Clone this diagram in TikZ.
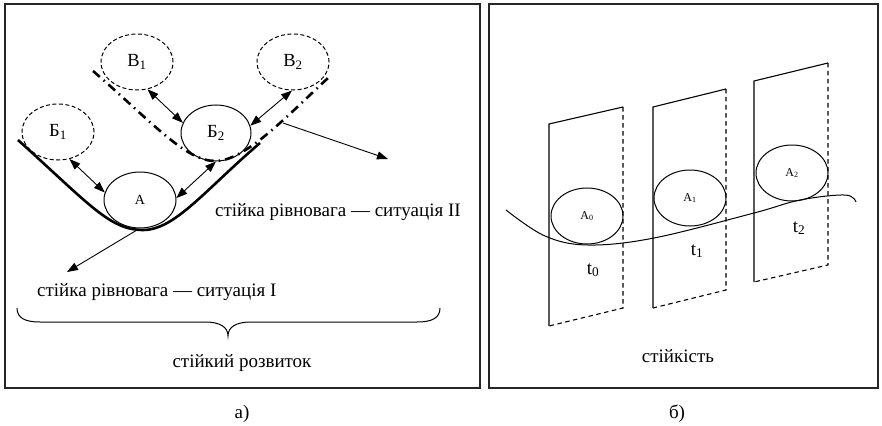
\documentclass[tikz,border=0pt]{standalone}
\usepackage{fontspec}
\setmainfont{Liberation Serif}
\usetikzlibrary{arrows.meta,shapes.geometric}
\tikzset{
  frame/.style={line width=1.4pt,draw=black!85},
  ell/.style={ellipse,draw,line width=1pt,inner sep=0pt,minimum width=72pt,minimum height=56pt,font=\fontsize{18.5}{20}\selectfont},
  dell/.style={ell,dash pattern=on 4pt off 2.5pt},
  small/.style={font=\fontsize{14}{16}\selectfont},
  tiny/.style={font=\fontsize{12}{14}\selectfont},
  dbl/.style={line width=0.9pt,{Triangle[length=11pt,width=8pt]}-{Triangle[length=11pt,width=8pt]}},
  sgl/.style={line width=0.9pt,-{Triangle[length=11pt,width=8pt]}},
  lbl/.style={font=\fontsize{19}{22}\selectfont,inner sep=0pt},
  thick curve/.style={line width=2.6pt},
  dashdot/.style={line width=2.6pt,dash pattern=on 9pt off 5pt on 1.5pt off 5pt},
  plane/.style={line width=1.1pt},
  dplane/.style={line width=1.1pt,dash pattern=on 4.5pt off 3.5pt},
}
\begin{document}
\begin{tikzpicture}[x=1pt,y=-1pt]
\useasboundingbox (0,0) rectangle (882,425);
% frames
\draw[frame] (5,4) rectangle (480,388);
\draw[frame] (489,4) rectangle (878,388);

% ---- left panel ----
\node[dell] (v1) at (137,62) {В\textsubscript{1}};
\node[dell] (v2) at (293,62) {В\textsubscript{2}};
\node[dell] (b1) at (58,132) {Б\textsubscript{1}};
\node[ell,minimum width=70pt] (b2) at (216,133) {Б\textsubscript{2}};
\node[ell,small] (a) at (140,200) {А};

% situation I curve
\draw[thick curve] (18,140) .. controls (90,205) and (110,230) .. (143,230)
  .. controls (175,230) and (205,190) .. (260,143);
\coordinate (s1) at (137,230);
% situation II curve
\draw[dashdot] (93,71) .. controls (150,120) and (185,161) .. (215,161)
  .. controls (245,161) and (285,118) .. (328,78);
\coordinate (s2) at (283,123);

% arrows
\draw[dbl] (b1.-67) -- (a.168);
\draw[dbl] (a.3) -- (b2.-90);
\draw[dbl] (v1.-69) -- (b2.163);
\draw[dbl] (v2.-92) -- (b2.12);
\coordinate (t2) at (388,159);
\draw[sgl] (s2) -- (t2);
\coordinate (t1) at (67,272);
\draw[sgl] (s1) -- (t1);

\node[lbl,anchor=base west] (l2) at (215,216) {стійка рівновага — ситуація II};
\node[lbl,anchor=base west] (l1) at (37,296) {стійка рівновага — ситуація I};

% brace
\draw[line width=1pt] (17,308) .. controls (17,318) and (25,322) .. (40,322) -- (205,322)
  .. controls (220,322) and (228,327) .. (228,336)
  .. controls (228,327) and (236,322) .. (251,322) -- (417,322)
  .. controls (432,322) and (440,318) .. (440,308);
\node[lbl,anchor=base] (dev) at (242,367) {стійкий розвиток};
\node[lbl,anchor=base] (ca) at (242,418) {а)};

% ---- right panel ----
% planes
\draw[plane] (549,326) -- (549,124) -- (623,107);
\draw[dplane] (623,107) -- (623,308) -- (549,326);
\draw[plane] (653,308) -- (653,107) -- (726,89);
\draw[dplane] (726,89) -- (726,290) -- (653,308);
\draw[plane] (754,282) -- (754,81) -- (828,63);
\draw[dplane] (828,63) -- (828,265) -- (754,282);

\node[ell,tiny] (a0) at (587,216) {А\textsubscript{0}};
\node[ell,tiny] (a1) at (690,198) {А\textsubscript{1}};
\node[ell,tiny] (a2) at (792,173) {А\textsubscript{2}};

\draw[line width=1pt] plot[smooth,tension=0.6] coordinates {(506,210) (545,236) (588,245) (654,238) (754,213) (800,200) (845,195) (856,202)};

\node[lbl,anchor=base] (t0) at (593,274) {t\textsubscript{0}};
\node[lbl,anchor=base] (tt1) at (697,255) {t\textsubscript{1}};
\node[lbl,anchor=base] (tt2) at (799,232) {t\textsubscript{2}};
\node[lbl,anchor=base] (st) at (678,362) {стійкість};
\node[lbl,anchor=base] (cb) at (677,418) {б)};
\end{tikzpicture}
\end{document}
